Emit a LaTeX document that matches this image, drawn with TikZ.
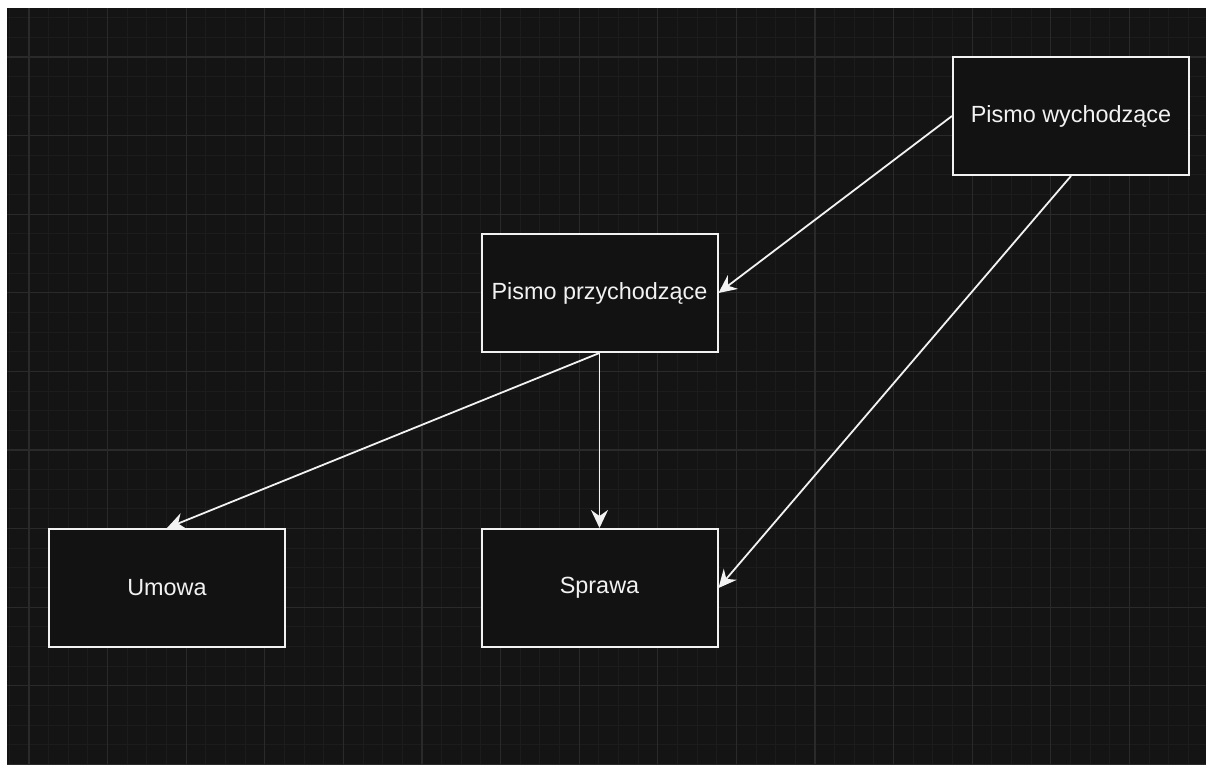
\documentclass[tikz,border=0pt]{standalone}
\usepackage{fontspec}
\setmainfont{Liberation Sans}
\usetikzlibrary{arrows.meta}
\definecolor{bgdark}{HTML}{141414}
\definecolor{boxfill}{HTML}{121212}
\definecolor{gridminor}{HTML}{1C1C1C}
\definecolor{gridmajor}{HTML}{2A2A2A}
\definecolor{fg}{HTML}{F2F2F2}
\tikzset{
  entity/.style={draw=fg, fill=boxfill, line width=1pt, minimum width=118pt, minimum height=59pt, inner sep=0pt, text=fg, font=\fontsize{11.7}{14}\selectfont},
  conn/.style={draw=fg, line width=0.9pt, -{Stealth[length=9pt,width=8.5pt,inset=3pt]}},
  minorline/.style={draw=gridminor, line width=0.5pt},
  majorline/.style={draw=gridmajor, line width=0.6pt}
}
\begin{document}
\begin{tikzpicture}[x=0.5pt,y=-0.5pt]
\useasboundingbox (0,0) rectangle (1206,765);
\fill[white] (0,0) rectangle (1206,765);
\fill[bgdark] (7,8) rectangle (1206,765);
\begin{scope}
\clip (7,8) rectangle (1206,765);
\foreach \i in {-1,...,61} {\pgfmathtruncatemacro{\r}{mod(\i+4,4)}\ifnum\r=0\else\draw[minorline] ({29+19.65*\i},8) -- ({29+19.65*\i},765);\fi}
\foreach \i in {-2,...,37} {\pgfmathtruncatemacro{\r}{mod(\i+4,4)}\ifnum\r=0\else\draw[minorline] (7,{57+19.65*\i}) -- (1206,{57+19.65*\i});\fi}
\foreach \i in {0,...,15} {\draw[majorline] ({29+78.6*\i},8) -- ({29+78.6*\i},765);}
\foreach \i in {0,...,9} {\draw[majorline] (7,{57+78.6*\i}) -- (1206,{57+78.6*\i});}
\end{scope}
\node[entity] (wych) at (1071,116) {Pismo wychodzące};
\node[entity] (przych) at (599.5,293) {Pismo przychodzące};
\node[entity] (sprawa) at (599.5,588) {Sprawa};
\node[entity] (umowa) at (167,588) {Umowa};
\draw[conn] (wych.west) -- (przych.east);
\draw[conn] (wych.south) -- (sprawa.east);
\draw[conn] (przych.south) -- (sprawa.north);
\draw[conn] (przych.south) -- (umowa.north);
\end{tikzpicture}
\end{document}
